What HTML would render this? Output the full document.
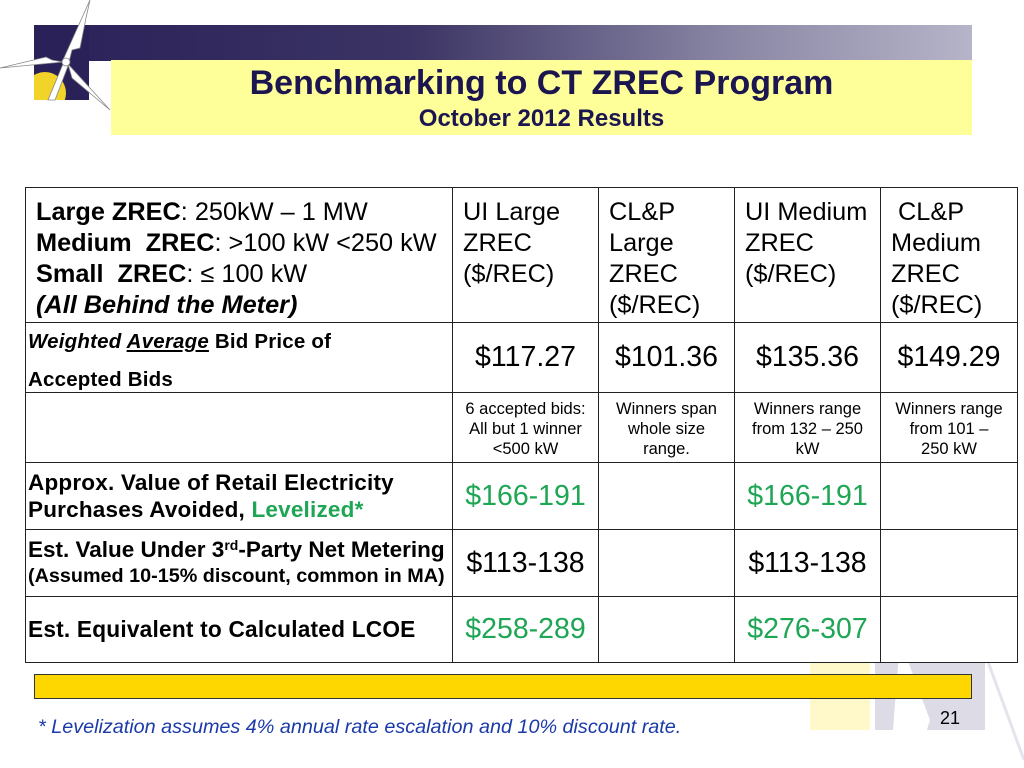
<!DOCTYPE html>
<html><head><meta charset="utf-8"><style>
body{margin:0;width:1024px;height:768px;position:relative;overflow:hidden;background:#fff;font-family:"Liberation Sans",Arial,sans-serif;color:#000}
.a{position:absolute}
.c{position:absolute;border:1px solid #222;box-sizing:border-box;overflow:visible;background:#fff;white-space:nowrap}
.g{color:#1fa655}
.hd{font-size:25.3px;line-height:31px;padding:9px 0 0 10px}
.sm{font-size:16.5px;line-height:20px;text-align:center;padding-top:6px}
.val{display:flex;align-items:center;justify-content:center;font-size:28.5px}
.lb{font-size:22px;font-weight:bold;line-height:27px;padding-left:2px;display:flex;flex-direction:column;justify-content:center;letter-spacing:0.2px}
</style></head><body>
<svg class="a" style="left:780px;top:640px" width="244" height="128">
<rect x="30" y="0" width="60" height="90" fill="#fff8c8"/>
<rect x="95" y="0" width="110" height="90" fill="#dcdbe6"/>
<path d="M120 0 L150 80 L135 128 L110 128 Z" fill="#fff"/>
<path d="M200 0 L244 120" stroke="#e4e4ec" stroke-width="3"/>
</svg>
<div class="a" style="left:34px;top:25px;width:938px;height:36px;background:linear-gradient(90deg,#2a2159 0%,#3b3464 40%,#8b88a6 75%,#b6b4c8 100%)"></div>
<div class="a" style="left:34px;top:25px;width:55px;height:75px;background:#2a2159;overflow:hidden">
<div class="a" style="left:-10px;top:47px;width:42px;height:42px;border-radius:50%;background:#f2d32a"></div></div>
<svg class="a" style="left:0;top:0" width="115" height="115">
<g fill="#fff" stroke="#888" stroke-width="0.8">
<path d="M63 60 L90 0 L86 18 L80 48 L72 50 L69 62 Z"/>
<path d="M63 62 L0 68 L46 57 L52 60 Z"/>
<path d="M68 64 L110 110 L72 78 Z"/>
<path d="M63 64 L48 100 L55 100 L68 66 Z"/>
<circle cx="66" cy="62" r="4"/></g></svg>
<div class="a" style="left:111px;top:60px;width:861px;height:75px;background:#ffff99"></div>
<div class="a" style="left:111px;top:64px;width:861px;text-align:center;font-size:34px;font-weight:bold;color:#1c1650">Benchmarking to CT ZREC Program</div>
<div class="a" style="left:111px;top:105px;width:861px;text-align:center;font-size:24px;font-weight:bold;color:#1c1650">October 2012 Results</div>

<div>
<div class="c hd" style="left:25px;top:187px;width:428px;height:136px"><b>Large ZREC</b>: 250kW – 1 MW<br><b>Medium&nbsp; ZREC</b>: &gt;100 kW &lt;250 kW<br><b>Small&nbsp; ZREC</b>: ≤ 100 kW<br><b><i>(All Behind the Meter)</i></b></div>
<div class="c hd" style="left:452px;top:187px;width:147px;height:136px">UI Large<br>ZREC<br>($/REC)</div>
<div class="c hd" style="left:598px;top:187px;width:137px;height:136px">CL&amp;P<br>Large<br>ZREC<br>($/REC)</div>
<div class="c hd" style="left:734px;top:187px;width:147px;height:136px">UI Medium<br>ZREC<br>($/REC)</div>
<div class="c hd" style="left:880px;top:187px;width:138px;height:136px">&nbsp;CL&amp;P<br>Medium<br>ZREC<br>($/REC)</div>

<div class="c lb" style="left:25px;top:322px;width:428px;height:71px;line-height:38px;justify-content:flex-start;font-size:20.5px"><span><i>Weighted <u>Average</u></i> Bid Price of</span><span>Accepted Bids</span></div>
<div class="c val" style="left:452px;top:322px;width:147px;height:71px">$117.27</div>
<div class="c val" style="left:598px;top:322px;width:137px;height:71px">$101.36</div>
<div class="c val" style="left:734px;top:322px;width:147px;height:71px">$135.36</div>
<div class="c val" style="left:880px;top:322px;width:138px;height:71px">$149.29</div>

<div class="c" style="left:25px;top:392px;width:428px;height:71px"></div>
<div class="c sm" style="left:452px;top:392px;width:147px;height:71px">6 accepted bids:<br>All but 1 winner<br>&lt;500 kW</div>
<div class="c sm" style="left:598px;top:392px;width:137px;height:71px">Winners span<br>whole size<br>range.</div>
<div class="c sm" style="left:734px;top:392px;width:147px;height:71px">Winners range<br>from 132 – 250<br>kW</div>
<div class="c sm" style="left:880px;top:392px;width:138px;height:71px">Winners range<br>from 101 –<br>250 kW</div>

<div class="c lb" style="left:25px;top:462px;width:428px;height:68px;font-size:22.5px"><span>Approx. Value of Retail Electricity</span><span>Purchases Avoided, <span class="g">Levelized*</span></span></div>
<div class="c val g" style="left:452px;top:462px;width:147px;height:68px">$166-191</div>
<div class="c" style="left:598px;top:462px;width:137px;height:68px"></div>
<div class="c val g" style="left:734px;top:462px;width:147px;height:68px">$166-191</div>
<div class="c" style="left:880px;top:462px;width:138px;height:68px"></div>

<div class="c lb" style="left:25px;top:529px;width:428px;height:68px;line-height:27px;letter-spacing:0"><span style="font-size:22.5px">Est. Value Under 3<sup style="font-size:14px;vertical-align:7px;line-height:0">rd</sup>-Party Net Metering</span><span style="font-size:19.8px">(Assumed 10-15% discount, common in MA)</span></div>
<div class="c val" style="left:452px;top:529px;width:147px;height:68px">$113-138</div>
<div class="c" style="left:598px;top:529px;width:137px;height:68px"></div>
<div class="c val" style="left:734px;top:529px;width:147px;height:68px">$113-138</div>
<div class="c" style="left:880px;top:529px;width:138px;height:68px"></div>

<div class="c lb" style="left:25px;top:596px;width:428px;height:67px;font-size:22.7px">Est. Equivalent to Calculated LCOE</div>
<div class="c val g" style="left:452px;top:596px;width:147px;height:67px">$258-289</div>
<div class="c" style="left:598px;top:596px;width:137px;height:67px"></div>
<div class="c val g" style="left:734px;top:596px;width:147px;height:67px">$276-307</div>
<div class="c" style="left:880px;top:596px;width:138px;height:67px"></div>
</div>

<div class="a" style="left:34px;top:674px;width:938px;height:25px;background:#ffd700;border:1px solid #333;box-sizing:border-box"></div>
<div class="a" style="left:940px;top:708px;font-size:18px">21</div>
<div class="a" style="left:38px;top:716px;font-size:19.8px;font-style:italic;color:#1a3aa8">* Levelization assumes 4% annual rate escalation and 10% discount rate.</div>
</body></html>
